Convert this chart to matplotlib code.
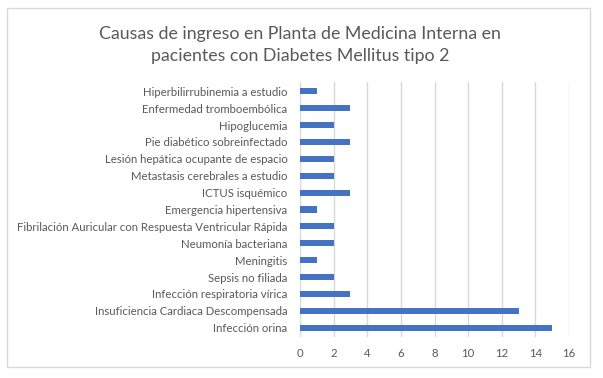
import matplotlib.pyplot as plt
from matplotlib.patches import Rectangle

causas = [
    "Infección orina",
    "Insuficiencia Cardiaca Descompensada",
    "Infección respiratoria vírica",
    "Sepsis no filiada",
    "Meningitis",
    "Neumonía bacteriana",
    "Fibrilación Auricular con Respuesta Ventricular Rápida",
    "Emergencia hipertensiva",
    "ICTUS isquémico",
    "Metastasis cerebrales a estudio",
    "Lesión hepática ocupante de espacio",
    "Pie diabético sobreinfectado",
    "Hipoglucemia",
    "Enfermedad tromboembólica",
    "Hiperbilirrubinemia a estudio",
]
pacientes = [15, 13, 3, 2, 1, 2, 2, 1, 3, 2, 2, 3, 2, 3, 1]
x_ticks = [0, 2, 4, 6, 8, 10, 12, 14, 16]

titulo = "Causas de ingreso en Planta de Medicina Interna en\npacientes con Diabetes Mellitus tipo 2"

plt.rcParams["font.family"] = ["Lato", "DejaVu Sans"]

W, H = 603, 378
fig = plt.figure(figsize=(W / 100, H / 100), dpi=100)

# light frame around the whole chart, like the Excel chart area
fig.patches.append(Rectangle((7 / W, 11 / H), 583 / W, 359 / H, transform=fig.transFigure,
                             fill=False, edgecolor="#D9D9D9", linewidth=1.0))

ax = fig.add_axes([300 / W, (H - 337) / H, 269 / W, 255 / H])
pos = list(range(len(causas)))
ax.barh(pos, pacientes, height=0.36, color="#4472C4", zorder=3)

ax.set_xlim(0, 16)
ax.set_ylim(-0.55, len(causas) - 0.45)
ax.set_xticks(x_ticks)
ax.set_yticks(pos)
ax.set_yticklabels(causas)
ax.grid(axis="x", color="#D9D9D9", linewidth=1.0, zorder=0)
for s in ax.spines.values():
    s.set_visible(False)
ax.tick_params(axis="both", length=0, colors="#595959", labelsize=8.2)
ax.tick_params(axis="x", pad=8)
ax.tick_params(axis="y", pad=9)

fig.text(300 / W, (H - 45) / H, titulo, ha="center", va="center",
         fontsize=12.8, color="#595959", linespacing=1.45)

fig.savefig("out.png", dpi=100)
